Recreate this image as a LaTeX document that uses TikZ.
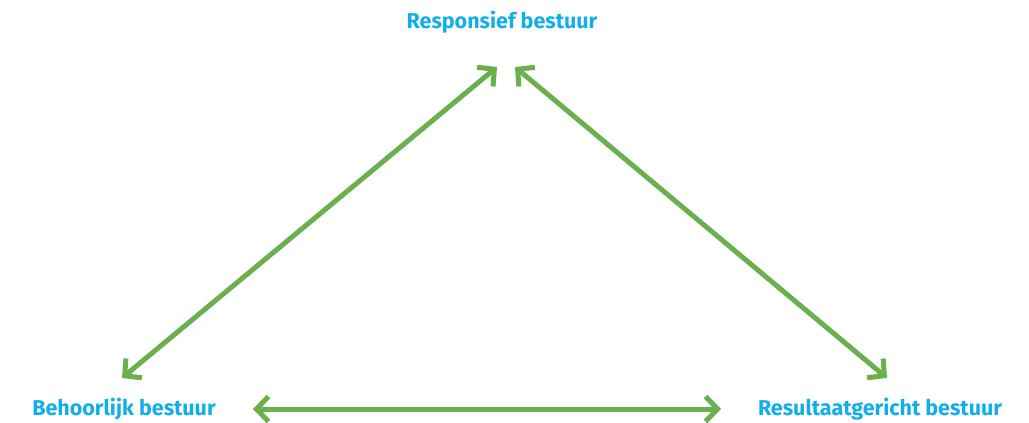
\documentclass[tikz,border=0pt]{standalone}
\usepackage{fontspec}
\setmainfont{Fira Sans}
\usetikzlibrary{arrows.meta}
\definecolor{labelblue}{HTML}{12AEEA}
\definecolor{arrowgreen}{HTML}{6AB04C}
\tikzset{
  lbl/.style={text=labelblue, font=\fontsize{21.5}{24}\selectfont\bfseries, inner sep=0pt},
  tip/.style={Straight Barb[length=12pt,width=25pt,line width=5pt]},
  link/.style={draw=arrowgreen, line width=5pt, {Straight Barb[length=12pt,width=25pt,line width=5pt]}-{Straight Barb[length=12pt,width=25pt,line width=5pt]}}
}
\begin{document}
\begin{tikzpicture}[x=1pt,y=-1pt]
\useasboundingbox (0,0) rectangle (1029,423);
\node[lbl] (top) at (502,22) {Responsief bestuur};
\node[lbl] (left) at (124,409) {Behoorlijk bestuur};
\node[lbl] (right) at (880,409) {Resultaatgericht bestuur};
\coordinate (tl) at (497,67);
\coordinate (tr) at (515,67);
\coordinate (bl) at (122,378);
\coordinate (br) at (887,378);
\coordinate (hl) at (253,409);
\coordinate (hr) at (721,409);
\draw[link] (tl) -- (bl);
\draw[link] (tr) -- (br);
\draw[link] (hl) -- (hr);
\end{tikzpicture}
\end{document}
